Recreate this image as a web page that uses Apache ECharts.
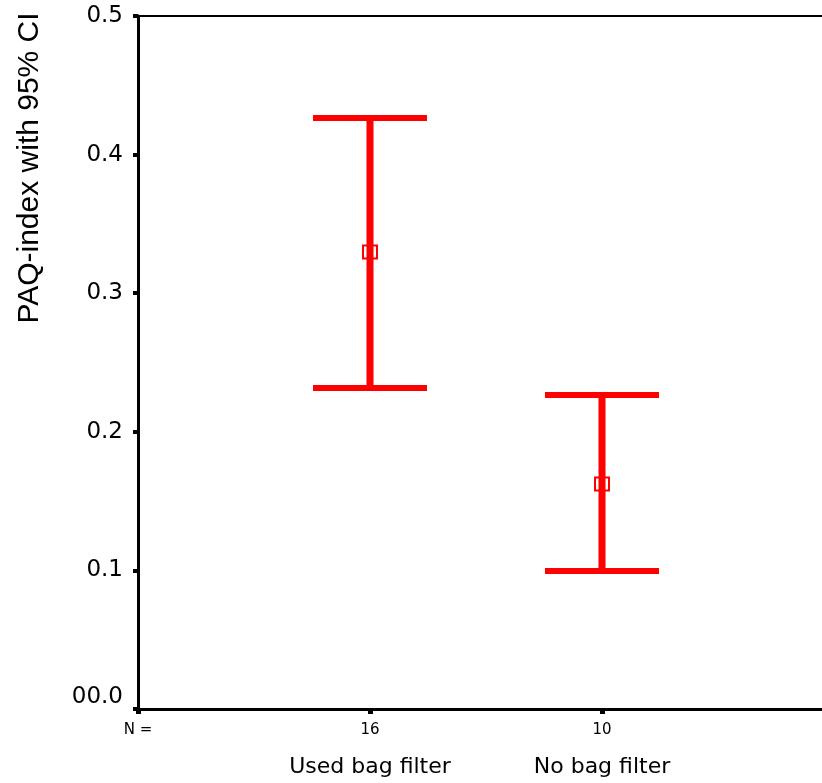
<!DOCTYPE html>
<html>
<head>
<meta charset="utf-8">
<script src="https://cdn.jsdelivr.net/npm/echarts@6/dist/echarts.min.js"></script>
<style>
html,body{margin:0;padding:0;background:#fff;}
#main{width:822px;height:783px;}
</style>
</head>
<body>
<div id="main"></div>
<script>
// ---- data ----
const categories = ['Used bag filter', 'No bag filter'];
const nCounts = [16, 10];
const means = [0.3297, 0.1623];
const lowerCI = [0.2316, 0.0996];
const upperCI = [0.4264, 0.2266];
const xPositions = [1, 2];
const yTicks = [0, 0.1, 0.2, 0.3, 0.4, 0.5];
const yTickLabels = ['00.0', '0.1', '0.2', '0.3', '0.4', '0.5'];
const yTitle = 'PAQ-index with 95% CI';

const chart = echarts.init(document.getElementById('main'), null, {renderer: 'canvas'});

const barData = categories.map((c, i) => [xPositions[i], lowerCI[i], upperCI[i], means[i]]);

function renderItem(params, api) {
  const x = api.value(0);
  const lo = api.coord([x, api.value(1)]);
  const hi = api.coord([x, api.value(2)]);
  const mid = api.coord([x, api.value(3)]);
  const capHalf = 57;
  const red = '#FF0000';
  return {
    type: 'group',
    children: [
      {type: 'line', shape: {x1: lo[0], y1: lo[1], x2: hi[0], y2: hi[1]}, style: {stroke: red, lineWidth: 7}},
      {type: 'line', shape: {x1: hi[0] - capHalf, y1: hi[1], x2: hi[0] + capHalf, y2: hi[1]}, style: {stroke: red, lineWidth: 6}},
      {type: 'line', shape: {x1: lo[0] - capHalf, y1: lo[1], x2: lo[0] + capHalf, y2: lo[1]}, style: {stroke: red, lineWidth: 6}},
      {type: 'rect', shape: {x: mid[0] - 7, y: mid[1] - 6.5, width: 14, height: 13}, style: {stroke: red, lineWidth: 2, fill: 'rgba(255,255,255,0)'}}
    ]
  };
}

const option = {
  animation: false,
  backgroundColor: '#fff',
  grid: {
    left: 138, top: 16, width: 696, bottom: 74,
    outerBoundsMode: 'none',
    containLabel: false,
    show: true, borderColor: '#000', borderWidth: 2, backgroundColor: 'transparent'
  },
  xAxis: {
    type: 'value', min: 0, max: 3, interval: 1,
    splitLine: {show: false},
    axisLine: {show: true, lineStyle: {color: '#000', width: 3}},
    axisTick: {show: true, length: 5, lineStyle: {color: '#000', width: 5}},
    axisLabel: {
      margin: 10,
      showMinLabel: true, showMaxLabel: true,
      formatter: function (v) {
        if (v === 0) return '{n|N =}';
        const i = xPositions.indexOf(v);
        if (i >= 0) return '{n|' + nCounts[i] + '}\n{c|' + categories[i] + '}';
        return '';
      },
      rich: {
        n: {fontFamily: 'DejaVu Sans', fontSize: 15, lineHeight: 22, color: '#000'},
        c: {fontFamily: 'DejaVu Sans', fontSize: 22, lineHeight: 52, color: '#000'}
      }
    }
  },
  yAxis: {
    type: 'value', min: 0, max: 0.5, interval: 0.1,
    splitLine: {show: false},
    axisLine: {show: true, lineStyle: {color: '#000', width: 3}},
    axisTick: {show: true, length: 5, lineStyle: {color: '#000', width: 4}},
    axisLabel: {
      margin: 15,
      showMinLabel: true, showMaxLabel: true,
      formatter: function (v) {
        let idx = -1;
        yTicks.forEach((t, k) => { if (Math.abs(t - v) < 1e-9) idx = k; });
        if (idx < 0) return '';
        if (idx === 0) return '{z|' + yTickLabels[idx] + '}';
        return '{t|' + yTickLabels[idx] + '}';
      },
      rich: {
        t: {fontFamily: 'DejaVu Sans', fontSize: 23, color: '#000'},
        z: {fontFamily: 'DejaVu Sans', fontSize: 23, color: '#000', padding: [0, 0, 24, 0]}
      }
    }
  },
  graphic: [{
    type: 'text',
    x: 30, y: 168,
    rotation: Math.PI / 2,
    style: {
      text: yTitle,
      font: '30px "Liberation Sans"',
      fill: '#000',
      align: 'center', verticalAlign: 'middle',
      textAlign: 'center', textVerticalAlign: 'middle'
    }
  }],
  series: [{
    type: 'custom',
    renderItem: renderItem,
    data: barData,
    encode: {x: 0, y: [1, 2, 3]},
    clip: false
  }]
};
chart.setOption(option);
</script>
</body>
</html>
